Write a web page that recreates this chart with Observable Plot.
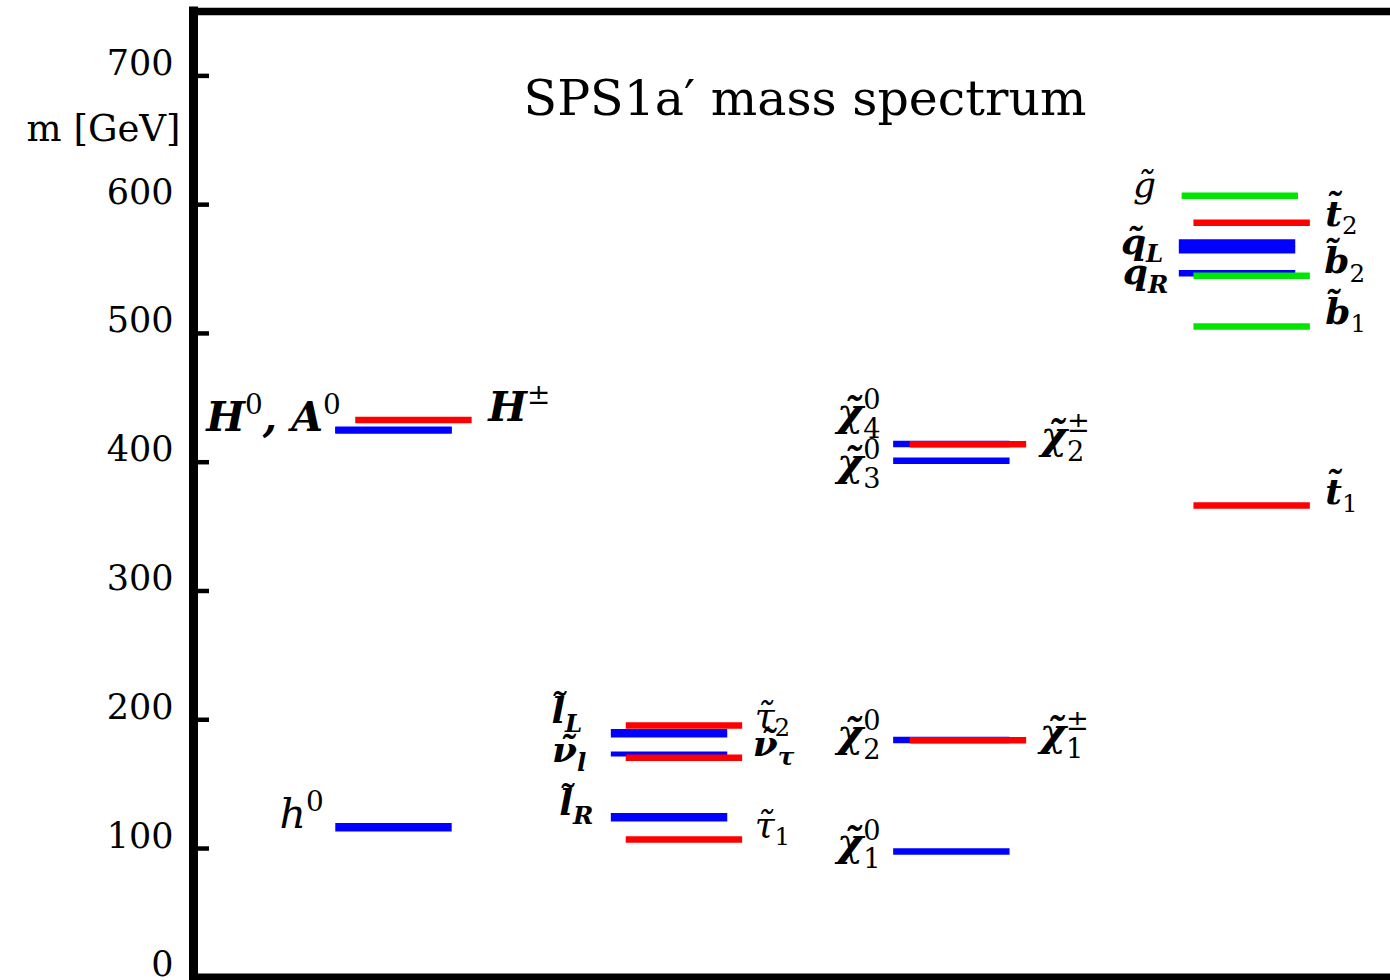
<!DOCTYPE html>
<html><head><meta charset="utf-8">
<script src="https://cdn.jsdelivr.net/npm/d3@7"></script>
<script src="https://cdn.jsdelivr.net/npm/@observablehq/plot@0.6"></script>
<style>html,body{margin:0;padding:0;background:#fff;overflow:hidden}</style>
</head><body><div id="chart"></div>
<script>
// ---------------- data ----------------
const title = "SPS1a′ mass spectrum";
const yLabel = "m [GeV]";
const yTicks = [0, 100, 200, 300, 400, 500, 600, 700];
const columns = ["Higgs", "Sleptons", "Gauginos", "Squarks"];

const levelName   = ["h0","H0","A0","H+","eL","nuL","eR","tau2","nutau","tau1","chi01","chi02","chi03","chi04","chi1+","chi2+","gluino","uL","dL","qR","t2","b2","b1","t1"];
const levelMass   = [116.5,425.1,424.9,432.8,189.5,173.5,124.3,195.5,170.4,107.0,97.7,184.2,401.2,414.2,184.0,414.0,607.0,565.0,570.3,546.7,586.0,544.7,505.3,366.3];
const levelColumn = ["Higgs","Higgs","Higgs","Higgs","Sleptons","Sleptons","Sleptons","Sleptons","Sleptons","Sleptons","Gauginos","Gauginos","Gauginos","Gauginos","Gauginos","Gauginos","Squarks","Squarks","Squarks","Squarks","Squarks","Squarks","Squarks","Squarks"];
const levelSide   = ["left","left","left","right","left","left","left","right","right","right","left","left","left","left","right","right","left","left","left","left","right","right","right","right"];
const levelGroup  = ["I","I","I","II","I","I","I","II","II","II","I","I","I","I","II","II","III","I","I","I","II","III","III","II"];

const labelText  = ["h^{0}","H^{0}, A^{0}","H^{±}","l̃_{L}","ν̃_{l}","l̃_{R}","τ̃_{2}","ν̃_{τ}","τ̃_{1}","χ̃^{0}_{4}","χ̃^{0}_{3}","χ̃^{0}_{2}","χ̃^{0}_{1}","χ̃^{±}_{2}","χ̃^{±}_{1}","g̃","q̃_{L}","q_{R}","t̃_{2}","b̃_{2}","b̃_{1}","t̃_{1}"];
const labelLevel = ["h0","H0","H+","eL","nuL","eR","tau2","nutau","tau1","chi04","chi03","chi02","chi01","chi2+","chi1+","gluino","uL","qR","t2","b2","b1","t1"];

// ---------------- layout (code side) ----------------
const colCenter = {Higgs: 1.0, Sleptons: 1.98, Gauginos: 2.984, Squarks: 4.0};
const colShift  = {Higgs: 0.071, Sleptons: 0.053, Gauginos: 0.059, Squarks: 0.052};
const halfLen = 0.207;
const widthOf = {h0: 8.5, eL: 8.5, eR: 8.5, nuL: 5, H0: 7, uL: 7.5, dL: 7.5};
// label nudges: [gap px from line end, baseline offset px]
const nudge = {
  "h0":[12,1], "H0":[-5,1], "H+":[16,1],
  "eL":[29,-10], "nuL":[25,8], "eR":[18,-2],
  "tau2":[12,2], "nutau":[10,-2], "tau1":[12,-3],
  "chi04":[13,-18], "chi03":[13,15], "chi02":[13,7], "chi01":[13,5],
  "chi2+":[14,5], "chi1+":[13,6],
  "gluino":[26,1], "uL":[16,4], "qR":[11,11],
  "t2":[15,3], "b2":[14,-3], "b1":[15,-3], "t1":[15,-2]
};
const lightLabels = new Set(["h0","tau2","tau1","gluino"]);
const labelSize = name => (["h0","H0","H+"].includes(name) ? 41 : name.startsWith("chi") ? 40 : 36);

const levels = levelName.map((n, i) => ({
  name: n, mass: levelMass[i], column: levelColumn[i], side: levelSide[i], group: levelGroup[i]
}));
const lx = d => colCenter[d.column] + (d.side === "right" ? colShift[d.column] : (d.name === "gluino" ? 0.01 : 0));
const x1 = d => lx(d) - halfLen;
const x2 = d => lx(d) + halfLen;

const labelMarks = labelText.map((t, i) => {
  const lv = levels.find(d => d.name === labelLevel[i]);
  const [gap, dy] = nudge[lv.name];
  const left = lv.side === "left";
  return Plot.text([{text: t, lv}], {
    x: d => left ? x1(d.lv) : x2(d.lv),
    y: d => d.lv.mass,
    text: "text",
    textAnchor: left ? "end" : "start",
    lineAnchor: "bottom",
    dx: left ? -gap : gap,
    dy,
    fontSize: labelSize(lv.name),
    fontStyle: "italic",
    fontWeight: lightLabels.has(lv.name) ? "normal" : "bold",
    fill: "black"
  });
});

const xDomain = [0.287, 4.544];

const chart = Plot.plot({
  width: 1390, height: 980,
  marginLeft: 193, marginRight: 0, marginTop: 11, marginBottom: 3.2,
  x: {domain: xDomain, axis: null},
  y: {domain: [0, 750], axis: null},
  color: {domain: ["I","II","III"], range: ["#0000ff","#ff0000","#00e600"]},
  style: {fontFamily: "'DejaVu Serif', serif", background: "white", overflow: "visible"},
  marks: [
    // levels (left-labelled first, right-labelled on top)
    Plot.ruleY(levels.filter(d => d.side === "left"), {y: "mass", x1, x2, stroke: "group", strokeWidth: d => widthOf[d.name] ?? 6.5}),
    Plot.ruleY(levels.filter(d => d.side === "right"), {y: "mass", x1, x2, stroke: "group", strokeWidth: d => widthOf[d.name] ?? 6.5}),
    // frame: top, bottom, left
    Plot.ruleY([0, 750], {stroke: "black", strokeWidth: 7.5}),
    Plot.ruleX([xDomain[0]], {stroke: "black", strokeWidth: 9, strokeLinecap: "square"}),
    // inward ticks
    Plot.ruleY(yTicks.filter(v => v > 0), {y: d => d, stroke: "black", strokeWidth: 4.5, insetRight: 1197 - 16}),
    // tick labels
    Plot.text(yTicks, {frameAnchor: "left", y: d => d, text: d => String(d), textAnchor: "end", lineAnchor: "bottom", dx: -20, dy: -1, fontSize: 35, fill: "black", style: "letter-spacing:2px"}),
    // axis label
    Plot.text([yLabel], {frameAnchor: "top-left", text: d => d, textAnchor: "end", lineAnchor: "bottom", dx: -13, dy: 129, fontSize: 37, fill: "black", style: "letter-spacing:6px"}),
    // title
    Plot.text([title], {frameAnchor: "top", text: d => d, lineAnchor: "bottom", dx: 13, dy: 103, fontSize: 49, fill: "black", style: "letter-spacing:4px"}),
    ...labelMarks
  ]
});
document.getElementById("chart").appendChild(chart);

// ---------------- simple math typesetting of labels ----------------
function typeset(el, src, fs) {
  const ns = "http://www.w3.org/2000/svg";
  while (el.firstChild) el.removeChild(el.firstChild);
  const tokens = [];
  const re = /([\^_])\{([^}]*)\}|([^\^_]+)/g;
  let m;
  while ((m = re.exec(src))) {
    if (m[1]) tokens.push({kind: m[1] === "^" ? "sup" : "sub", text: m[2]});
    else tokens.push({kind: "base", text: m[3]});
  }
  const stacked = /\^\{[^}]*\}_\{/.test(src);
  const off = {base: 0, sup: -0.42 * fs, sub: (stacked ? 0.3 : 0.24) * fs};
  let cur = 0, prev = null, pendingDx = 0;
  for (const t of tokens) {
    const ts = document.createElementNS(ns, "tspan");
    ts.textContent = t.text;
    ts.setAttribute("dy", (off[t.kind] - cur).toFixed(2));
    cur = off[t.kind];
    if (t.kind !== "base") {
      ts.setAttribute("font-size", (0.68 * fs).toFixed(1));
      if (/^[0-9±]+$/.test(t.text)) { ts.setAttribute("font-style", "normal"); ts.setAttribute("font-weight", "normal"); }
    }
    let dx = pendingDx; pendingDx = 0;
    if (t.kind === "sub" && prev && prev.kind === "sup") dx -= prev.width;
    if (dx) ts.setAttribute("dx", dx.toFixed(2));
    el.appendChild(ts);
    t.width = ts.getComputedTextLength();
    if (t.kind === "sub" && prev && prev.kind === "sup" && prev.width > t.width) pendingDx = prev.width - t.width;
    prev = t;
  }
}
chart.querySelectorAll("text").forEach(el => {
  const s = el.textContent;
  if (/[\^_]\{/.test(s)) typeset(el, s, parseFloat(getComputedStyle(el).fontSize));
});
</script>
</body></html>
